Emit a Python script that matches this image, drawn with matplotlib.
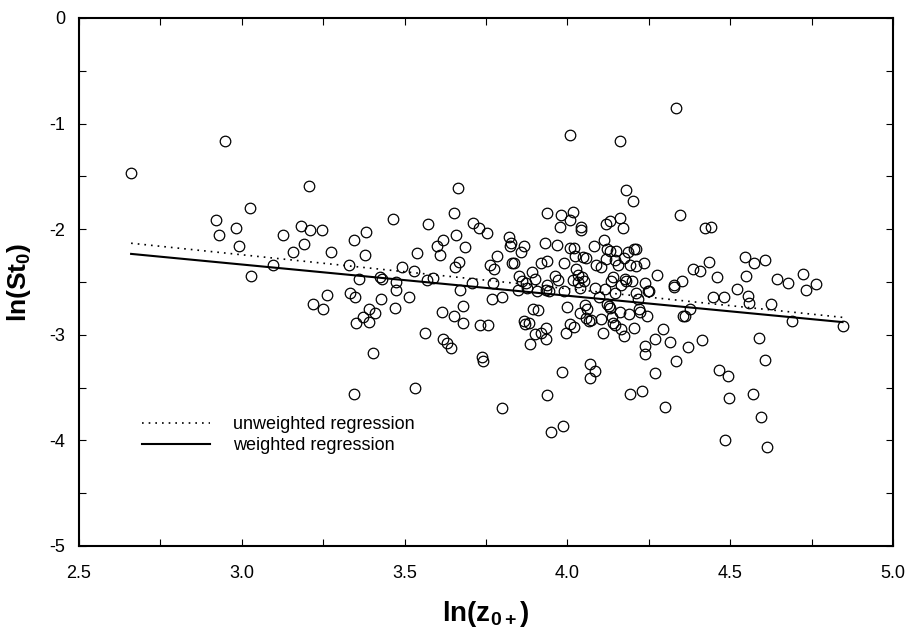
import numpy as np
import matplotlib
matplotlib.use("Agg")
import matplotlib.pyplot as plt
from matplotlib.ticker import MultipleLocator

plt.rcParams['font.family'] = ['Liberation Sans', 'DejaVu Sans']
plt.rcParams['axes.unicode_minus'] = False
plt.rcParams['mathtext.fontset'] = 'custom'
plt.rcParams['mathtext.rm'] = 'Liberation Sans:bold'
plt.rcParams['mathtext.it'] = 'Liberation Sans:bold'
plt.rcParams['mathtext.bf'] = 'Liberation Sans:bold'

# data: ln(z0+) vs ln(St0)
ln_z = [2.659, 2.947, 4.007, 4.161, 4.335, 3.206, 3.665, 4.180, 4.202, 3.026,
        2.922, 2.931, 2.983, 2.992, 3.127, 3.182, 3.191, 3.209, 3.247, 3.273,
        3.158, 3.097, 3.029, 3.220, 3.249, 3.261, 3.329, 3.346, 3.382, 3.378,
        3.359, 3.332, 3.348, 3.350, 3.373, 3.391, 3.392, 3.410, 3.402, 3.346,
        3.423, 3.430, 3.427, 3.471, 3.475, 3.473, 3.464, 3.493, 3.512, 3.528,
        3.539, 3.533, 3.562, 3.569, 3.571, 3.587, 3.598, 3.608, 3.614, 3.619,
        3.619, 3.630, 3.644, 3.651, 3.656, 3.658, 3.653, 3.667, 3.669, 3.678,
        3.680, 3.687, 3.706, 3.710, 3.728, 3.731, 3.737, 3.740, 3.754, 3.756,
        3.763, 3.774, 3.767, 3.783, 3.770, 3.799, 3.799, 3.822, 3.826, 3.829,
        3.824, 3.835, 3.849, 3.851, 3.858, 3.860, 3.867, 3.867, 3.872, 3.870,
        3.876, 3.881, 3.885, 3.890, 3.895, 3.899, 3.902, 3.906, 3.909, 3.918,
        3.918, 3.931, 3.933, 3.934, 3.938, 3.938, 3.936, 3.934, 3.942, 3.938,
        3.950, 3.963, 3.968, 3.972, 3.977, 3.981, 3.984, 3.986, 3.988, 3.991,
        3.995, 4.000, 4.007, 4.009, 4.009, 4.016, 4.020, 4.024, 4.018, 4.020,
        4.027, 4.031, 4.032, 4.038, 4.040, 4.043, 4.043, 4.045, 4.048, 4.052,
        4.054, 4.057, 4.056, 4.061, 4.066, 4.068, 4.070, 4.073, 4.081, 4.084,
        4.084, 4.087, 4.096, 4.102, 4.104, 4.109, 4.113, 4.114, 4.118, 4.118,
        4.122, 4.123, 4.127, 4.130, 4.130, 4.132, 4.134, 4.138, 4.141, 4.141,
        4.145, 4.145, 4.146, 4.150, 4.155, 4.161, 4.163, 4.164, 4.166, 4.171,
        4.173, 4.173, 4.176, 4.180, 4.186, 4.189, 4.191, 4.193, 4.198, 4.204,
        4.205, 4.211, 4.211, 4.211, 4.216, 4.221, 4.223, 4.234, 4.230, 4.237,
        4.239, 4.239, 4.243, 4.246, 4.252, 4.268, 4.269, 4.275, 4.294, 4.300,
        4.314, 4.326, 4.328, 4.332, 4.346, 4.351, 4.355, 4.362, 4.369, 4.376,
        4.387, 4.408, 4.414, 4.423, 4.442, 4.435, 4.448, 4.460, 4.465, 4.480,
        4.483, 4.492, 4.497, 4.521, 4.546, 4.548, 4.554, 4.558, 4.570, 4.572,
        4.588, 4.596, 4.606, 4.608, 4.613, 4.624, 4.645, 4.690, 4.679, 4.724,
        4.733, 4.763, 4.845]
ln_st = [-1.47, -1.166, -1.112, -1.162, -0.854, -1.59, -1.606, -1.629, -1.735, -1.796,
         -1.91, -2.054, -1.99, -2.16, -2.054, -1.97, -2.14, -2.01, -2.01, -2.22,
         -2.22, -2.34, -2.44, -2.71, -2.76, -2.62, -2.34, -2.10, -2.03, -2.24,
         -2.475, -2.60, -2.64, -2.885, -2.83, -2.76, -2.88, -2.79, -3.17, -3.56,
         -2.456, -2.475, -2.66, -2.75, -2.58, -2.50, -1.906, -2.354, -2.64, -2.40,
         -2.225, -3.50, -2.98, -2.48, -1.95, -2.46, -2.16, -2.24, -2.78, -2.10,
         -3.04, -3.075, -3.125, -1.85, -2.354, -2.058, -2.82, -2.31, -2.58, -2.73,
         -2.89, -2.17, -2.51, -1.94, -1.99, -2.91, -3.21, -3.25, -2.04, -2.91,
         -2.34, -2.38, -2.665, -2.25, -2.51, -2.646, -3.69, -2.077, -2.13, -2.32,
         -2.16, -2.32, -2.58, -2.44, -2.22, -2.49, -2.16, -2.87, -2.51, -2.90,
         -2.56, -2.89, -3.09, -2.41, -2.76, -2.47, -2.99, -2.59, -2.77, -2.32,
         -2.98, -2.13, -3.04, -2.58, -1.85, -2.30, -2.53, -2.94, -2.59, -3.57,
         -3.92, -2.44, -2.15, -2.48, -1.98, -1.87, -3.35, -3.865, -2.585, -2.316,
         -2.98, -2.74, -1.91, -2.18, -2.90, -1.84, -2.18, -2.25, -2.48, -2.93,
         -2.38, -2.50, -2.43, -2.56, -2.79, -1.98, -2.01, -2.45, -2.26, -2.49,
         -2.72, -2.27, -2.84, -2.76, -2.87, -3.41, -3.28, -2.86, -2.16, -3.34,
         -2.56, -2.34, -2.64, -2.855, -2.36, -2.98, -2.10, -2.57, -1.95, -2.28,
         -2.71, -2.19, -2.73, -1.92, -2.75, -2.21, -2.49, -2.83, -2.456, -2.89,
         -2.91, -2.60, -2.29, -2.21, -2.34, -2.78, -1.89, -2.53, -2.95, -1.985,
         -3.01, -2.27, -2.475, -2.49, -2.22, -2.80, -2.34, -3.56, -2.49, -2.935,
         -2.19, -2.19, -2.35, -2.60, -2.665, -2.76, -2.78, -2.32, -3.53, -3.11,
         -3.18, -2.51, -2.82, -2.59, -2.59, -3.36, -3.04, -2.43, -2.95, -3.68,
         -3.07, -2.53, -2.55, -3.25, -1.87, -2.49, -2.82, -2.82, -3.12, -2.76,
         -2.38, -2.40, -3.05, -1.99, -1.98, -2.31, -2.64, -2.456, -3.33, -2.64,
         -4.00, -3.39, -3.60, -2.57, -2.26, -2.445, -2.63, -2.70, -3.56, -2.32,
         -3.03, -3.78, -2.29, -3.24, -4.06, -2.71, -2.47, -2.874, -2.505, -2.42,
         -2.58, -2.52, -2.92]

# regression lines (end points)
reg_x = [2.66, 4.845]
unweighted_y = [-2.133, -2.835]
weighted_y = [-2.234, -2.88]

fig = plt.figure(figsize=(9.08, 6.29), dpi=100)
ax = fig.add_axes([0.087, 0.132, 0.8965, 0.8394])

ax.plot(ln_z, ln_st, 'o', mfc='none', mec='black', ms=7.6, mew=0.9)
ax.plot(reg_x, unweighted_y, color='black', lw=1.2, ls=(0, (1, 3)),
        label='unweighted regression')
ax.plot(reg_x, weighted_y, color='black', lw=1.5, ls='-',
        label='weighted regression')

ax.set_xlim(2.5, 5.0)
ax.set_ylim(-5, 0)
ax.xaxis.set_major_locator(MultipleLocator(0.5))
ax.xaxis.set_minor_locator(MultipleLocator(0.25))
ax.yaxis.set_major_locator(MultipleLocator(1))
ax.yaxis.set_minor_locator(MultipleLocator(0.5))
ax.xaxis.set_major_formatter(matplotlib.ticker.FormatStrFormatter('%.1f'))
ax.tick_params(which='both', direction='in', top=True, right=True,
               length=5.3, width=0.8, labelsize=13)
ax.tick_params(axis='x', pad=14)
ax.tick_params(axis='y', pad=10)
for sp in ax.spines.values():
    sp.set_linewidth(1.5)

ax.set_xlabel(r'ln(z$_{0+}$)', fontsize=20, fontweight='bold')
ax.set_ylabel(r'ln(St$_0$)', fontsize=19, fontweight='bold')
ax.xaxis.set_label_coords(0.5, -0.1)
ax.yaxis.set_label_coords(-0.056, 0.5)

ax.legend(loc='center left', bbox_to_anchor=(0.0770, 0.21), frameon=False,
          fontsize=13, handlelength=3.8, handletextpad=1.25,
          borderpad=0, borderaxespad=0, labelspacing=0.2)

fig.savefig('out.png', dpi=100)
